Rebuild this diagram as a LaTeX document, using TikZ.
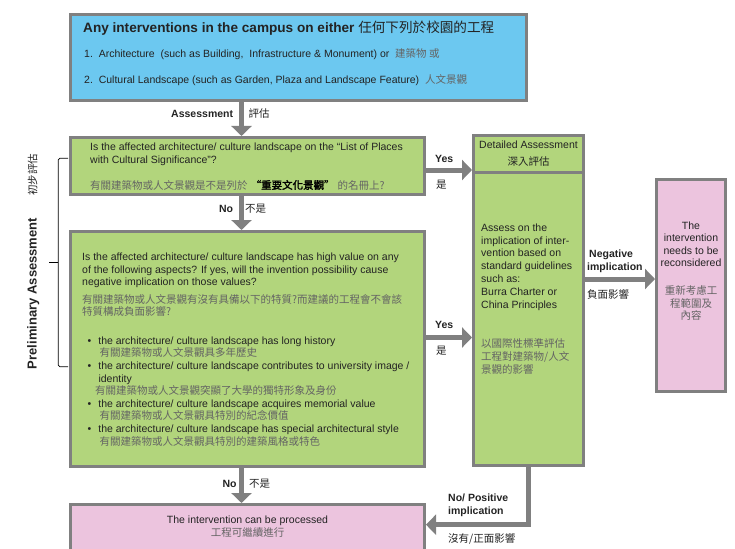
\documentclass[tikz,border=0pt]{standalone}
\usepackage{fontspec}
\setmainfont{Liberation Sans}
\newfontfamily\cjk{Noto Sans CJK TC}
\newfontfamily\cjkbold[FakeBold=2]{Noto Sans CJK TC}
\usetikzlibrary{arrows.meta}

\definecolor{flowgrey}{RGB}{128, 128, 128}
\definecolor{campusblue}{RGB}{108, 200, 240}
\definecolor{checkgreen}{RGB}{178, 213, 124}
\definecolor{resultpink}{RGB}{236, 196, 222}
\definecolor{inkgrey}{RGB}{35, 35, 35}
\definecolor{hanzigrey}{RGB}{100, 100, 100}

\newcommand{\zh}[1]{{\mdseries\cjk\color{hanzigrey}#1}}
\newcommand{\zhdark}[1]{{\mdseries\cjk #1}}
\newcommand{\zhbold}[1]{{\cjkbold\color{black}#1}}
\newcommand{\itembul}{\hspace*{5.5pt}\textbullet\hspace{7pt}}

\tikzstyle{flowbox} = [
  rectangle,
  draw=flowgrey,
  line width=3pt,
  anchor=north west,
  inner sep=0pt,
]
\tikzstyle{flow} = [
  draw=flowgrey,
  line width=5pt,
  -{Triangle[width=20pt,length=10pt]},
]
\tikzstyle{boxtext} = [
  inner sep=0pt,
  anchor=base west,
  align=left,
  text=inkgrey,
  font=\fontsize{10.5}{12.8}\selectfont,
]
\tikzstyle{flowlabel} = [
  inner sep=0pt,
  anchor=base west,
  align=left,
  text=inkgrey,
  font=\fontsize{10.5}{13.4}\selectfont\bfseries,
]
\tikzstyle{zhlabel} = [
  inner sep=0pt,
  anchor=base west,
  text=inkgrey,
  font=\fontsize{10.5}{13}\selectfont\cjk,
]

\begin{document}
\begin{tikzpicture}[x=1pt, y=-1pt]
            \useasboundingbox (0,0) rectangle (735,548);
            \clip (0,0) rectangle (735,548);

            % Boxes
            \node[flowbox, fill=campusblue, minimum width=456pt, minimum height=85.7pt] (top) at (69,13) {};
            \node[flowbox, fill=checkgreen, minimum width=354pt, minimum height=57pt] (list) at (69,136) {};
            \node[flowbox, fill=checkgreen, minimum width=354pt, minimum height=235pt] (aspects) at (69,230) {};
            \node[flowbox, fill=resultpink, minimum width=354pt, minimum height=50pt] (processed) at (69,503) {};
            \node[flowbox, fill=checkgreen, minimum width=110pt, minimum height=293.5pt] (detail) at (472,170.5) {};
            \node[flowbox, fill=checkgreen, minimum width=110pt, minimum height=36.5pt,
                  align=center, text=inkgrey, font=\fontsize{10.5}{16.7}\selectfont] (detailhead) at (472,134)
                  {Detailed Assessment\\ \zhdark{深入評估}};
            \node[flowbox, fill=resultpink, minimum width=69pt, minimum height=212pt] (reconsider) at (655,178) {};

            % Box texts
            \node[boxtext, font=\fontsize{13.6}{15}\selectfont\bfseries] (toptitle) at (83,33)
                  {Any interventions in the campus on either \zhdark{任何下列於校園的工程}};
            \node[boxtext] (topitems) at (84,83.3)
                  {1.\ \ Architecture\ \ (such as Building,\ \ Infrastructure \& Monument) or\ \ \zh{建築物 或}\\[12.5pt]
                   2.\ \ Cultural Landscape (such as Garden, Plaza and Landscape Feature)\ \ \zh{人文景觀}};
            \node[boxtext] (listtext) at (90,189)
                  {Is the affected architecture/ culture landscape on the “List of Places\\
                   with Cultural Significance”?\\[12.9pt]
                   \zh{有關建築物或人文景觀是不是列於} \zhbold{“重要文化景觀”} \zh{的名冊上?}};
            \node[boxtext, font=\fontsize{10.5}{12.6}\selectfont] (aspectstext) at (82,445)
                  {Is the affected architecture/ culture landscape has high value on any\\
                   of the following aspects? If yes, will the invention possibility cause\\
                   negative implication on those values?\\[5.1pt]
                   \zh{有關建築物或人文景觀有沒有具備以下的特質?而建議的工程會不會該}\\
                   \zh{特質構成負面影響?}\\[15.7pt]
                   \itembul the architecture/ culture landscape has long history\\
                   \hspace*{17.3pt}\zh{有關建築物或人文景觀具多年歷史}\\
                   \itembul the architecture/ culture landscape contributes to university image /\\
                   \hspace*{16.3pt}identity\\
                   \hspace*{13pt}\zh{有關建築物或人文景觀突顯了大學的獨特形象及身份}\\
                   \itembul the architecture/ culture landscape acquires memorial value\\
                   \hspace*{17.3pt}\zh{有關建築物或人文景觀具特別的紀念價值}\\
                   \itembul the architecture/ culture landscape has special architectural style\\
                   \hspace*{17.3pt}\zh{有關建築物或人文景觀具特別的建築風格或特色}};
            \node[boxtext] (detailtext) at (481,373)
                  {Assess on the\\ implication of inter-\\ vention based on\\ standard guidelines\\
                   such as:\\ Burra Charter or\\ China Principles\\[26.5pt]
                   \zh{以國際性標準評估}\\ \zh{工程對建築物/人文}\\ \zh{景觀的影響}};
            \node[boxtext, anchor=base, align=center, font=\fontsize{10.5}{12.6}\selectfont] (reconsidertext) at (691,319.7)
                  {The\\ intervention\\ needs to be\\ reconsidered\\[15pt]
                   \zh{重新考慮工}\\ \zh{程範圍及}\\ \zh{內容}};
            \node[boxtext, anchor=base, align=center] (processedtext) at (247.5,536.7)
                  {The intervention can be processed\\ \zh{工程可繼續進行}};

            % Bracket
            \draw[line width=0.8pt, rounded corners=1.5pt] (68,158.3) -- (58.3,158.3) -- (58.3,366.7) -- (68,366.7);
            \draw[line width=0.8pt] (58.3,262.7) -- (49,262.7);
            \node[rotate=90, inner sep=0pt, text=inkgrey] (prelim) at (33.3,261.5)
                  {{\fontsize{13}{15}\selectfont\bfseries Preliminary Assessment}\hspace{22pt}{\fontsize{10.5}{12}\selectfont\cjk 初步評估}};

            % Arrows
            \coordinate (spine) at ([xshift=-6pt]list.north);
            \coordinate (yesA) at ([yshift=-4pt]list.east);
            \coordinate (yesB) at ([yshift=11.5pt]aspects.east);
            \coordinate (negA) at ([yshift=6.5pt]reconsider.west);
            \coordinate (posA) at ([yshift=4.8pt]processed.east);

            \draw[flow] (spine |- top.south) -- (spine |- list.north);
            \draw[flow] (spine |- list.south) -- (spine |- aspects.north);
            \draw[flow] (spine |- aspects.south) -- (spine |- processed.north);
            \draw[flow] (yesA) -- (yesA -| detail.west);
            \draw[flow] (yesB) -- (yesB -| detail.west);
            \draw[flow] (negA -| detail.east) -- (negA);
            \draw[flow] (detail.south) |- (posA);

            % Labels
            \node[flowlabel, anchor=base east] (assesslabel) at (233.3,117.5) {Assessment};
            \node[zhlabel] (assesszh) at (248.3,117.5) {評估};
            \node[flowlabel, anchor=base east] (nolabel) at (233.3,212.5) {No};
            \node[zhlabel] (nozh) at (245,212.5) {不是};
            \node[flowlabel] (yeslabel) at (435,162.5) {Yes};
            \node[zhlabel] (yeszh) at (436,188) {是};
            \node[flowlabel] (yeslabelb) at (435,328) {Yes};
            \node[zhlabel] (yeszhb) at (436,354) {是};
            \node[flowlabel] (neglabel) at (587,270.7) {\hspace*{2pt}Negative\\implication};
            \node[zhlabel] (negzh) at (587,298) {負面影響};
            \node[flowlabel, anchor=base east] (nolabelb) at (236.7,487.5) {No};
            \node[zhlabel] (nozhb) at (249,487.5) {不是};
            \node[flowlabel] (poslabel) at (448,514.7) {No/ Positive\\implication};
            \node[zhlabel] (poszh) at (448,542.3) {沒有/正面影響};
          \end{tikzpicture}
\end{document}
